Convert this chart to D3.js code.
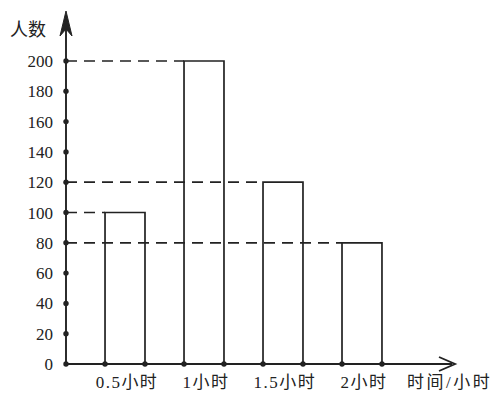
<!DOCTYPE html>
<html><head><meta charset="utf-8">
<script src="https://cdn.jsdelivr.net/npm/d3@7"></script>
<style>body{margin:0;background:#fff}svg{display:block}text{font-family:"Liberation Serif","Noto Sans CJK SC",serif;fill:#222}</style>
</head><body>
<svg id="c" width="497" height="396"></svg>
<script>
const categories = ["0.5小时", "1小时", "1.5小时", "2小时"];
const values = [100, 200, 120, 80];
const yTicks = [0, 20, 40, 60, 80, 100, 120, 140, 160, 180, 200];
const yTitle = "人数";
const xTitle = "时间/小时";

const svg = d3.select("#c");
const ink = "#222";
const x = d3.scaleBand().domain(categories).range([66, 421]).paddingInner(0.494).paddingOuter(0.494);
const y = d3.scaleLinear().domain([0, 200]).range([364, 61]);
const x0 = 66, y0 = y(0);

// dashed guide lines
categories.forEach((c, i) => {
  svg.append("line").attr("x1", x0).attr("x2", x(c)).attr("y1", y(values[i])).attr("y2", y(values[i]))
    .attr("stroke", ink).attr("stroke-width", 1.7).attr("stroke-dasharray", "11,7");
});

// bars (open rectangles with no bottom)
categories.forEach((c, i) => {
  const l = x(c), r = x(c) + x.bandwidth(), t = y(values[i]);
  svg.append("path").attr("d", `M${l},${y0}V${t}H${r}V${y0}`)
    .attr("fill", "none").attr("stroke", ink).attr("stroke-width", 1.7);
});

// axes
svg.append("line").attr("x1", x0).attr("x2", 452).attr("y1", y0).attr("y2", y0).attr("stroke", ink).attr("stroke-width", 1.9);
svg.append("line").attr("x1", x0).attr("x2", x0).attr("y1", y0).attr("y2", 16).attr("stroke", ink).attr("stroke-width", 1.9);
svg.append("path").attr("d", `M439,${y0-7} L455,${y0} L439,${y0+7}`).attr("fill", "none").attr("stroke", ink).attr("stroke-width", 1.9);
svg.append("path").attr("d", `M${x0},11 L${x0+6},36 L${x0},29 L${x0-6},36 Z`).attr("fill", ink).attr("stroke", ink).attr("stroke-width", 1);

// y ticks: dots + labels
yTicks.forEach(v => {
  svg.append("circle").attr("cx", x0).attr("cy", y(v)).attr("r", 2.7).attr("fill", ink);
  svg.append("text").attr("x", 53).attr("y", y(v) + 6).attr("text-anchor", "end").attr("font-size", 17).text(v);
});

// x dots at bar edges + labels
categories.forEach(c => {
  [x(c), x(c) + x.bandwidth()].forEach(px => {
    svg.append("circle").attr("cx", px).attr("cy", y0).attr("r", 2.7).attr("fill", ink);
  });
  svg.append("text").attr("x", x(c) + x.bandwidth() / 2 + 2).attr("y", 388).attr("text-anchor", "middle")
    .attr("font-size", 17).attr("letter-spacing", 1.5).text(c);
});

svg.append("text").attr("x", 10).attr("y", 36).attr("font-size", 18).text(yTitle);
svg.append("text").attr("x", 407).attr("y", 388).attr("font-size", 17).attr("letter-spacing", 2.5).text(xTitle);
</script>
</body></html>
